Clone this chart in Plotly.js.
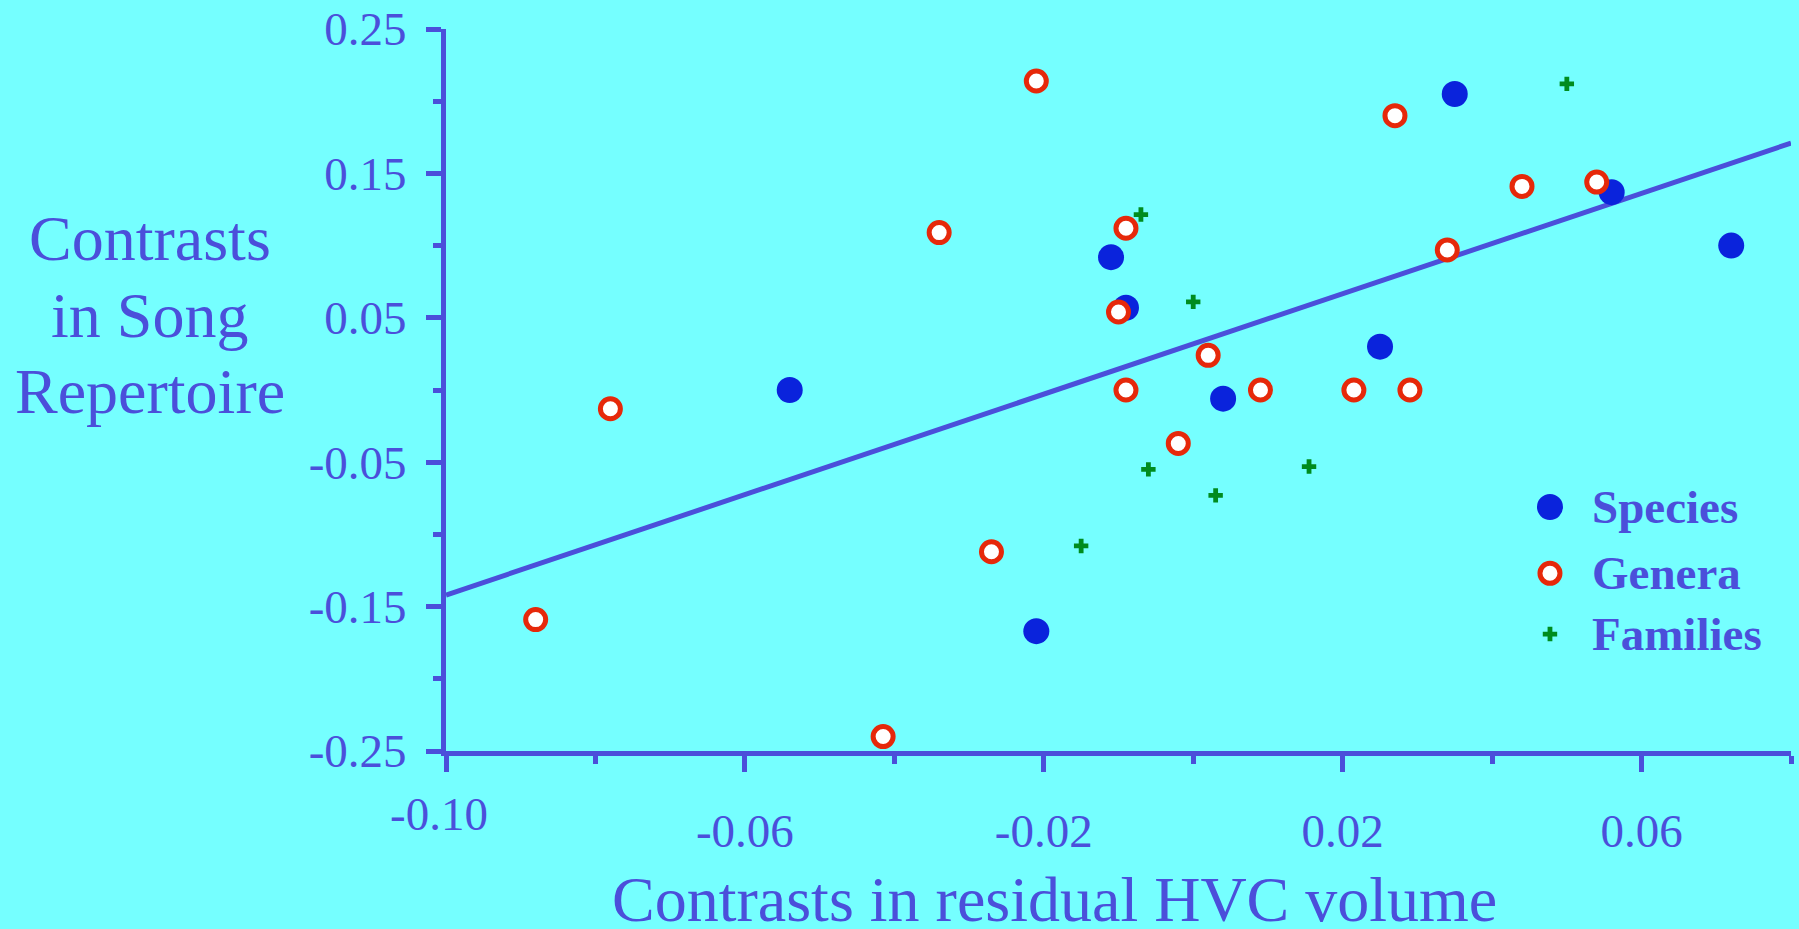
<!DOCTYPE html>
<html>
<head>
<meta charset="utf-8">
<script src="https://cdn.plot.ly/plotly-3.0.1.min.js"></script>
<style>
  html, body { margin: 0; padding: 0; background: #75FFFF; }
  #chart { width: 1799px; height: 929px; }
</style>
</head>
<body>
<div id="chart"></div>
<script>
// Phylogenetic contrasts: song repertoire vs residual HVC volume
const speciesX = [-0.054, -0.021, -0.011, -0.009, 0.004, 0.025, 0.035, 0.056, 0.072];
const speciesY = [0.000, -0.167, 0.092, 0.057, -0.006, 0.030, 0.205, 0.137, 0.100];

const generaX = [-0.088, -0.078, -0.0415, -0.034, -0.027, -0.021, -0.010, -0.009, -0.009,
                 -0.002, 0.002, 0.009, 0.0215, 0.027, 0.029, 0.034, 0.044, 0.054];
const generaY = [-0.159, -0.013, -0.240, 0.109, -0.112, 0.214, 0.054, 0.112, 0.000,
                 -0.037, 0.024, 0.000, 0.000, 0.190, 0.000, 0.097, 0.141, 0.144];

const familiesX = [-0.015, -0.007, -0.006, 0.000, 0.003, 0.0155, 0.050];
const familiesY = [-0.108, 0.1215, -0.055, 0.061, -0.073, -0.053, 0.212];

// regression line end points
const fitX = [-0.10, 0.08];
const fitY = [-0.142, 0.171];

const seriesNames = ['Species', 'Genera', 'Families'];

const xMajorVals = [-0.10, -0.06, -0.02, 0.02, 0.06];
const xMajorText = ['-0.10', '-0.06', '-0.02', '0.02', '0.06'];
const xMinorVals = [-0.08, -0.04, 0.00, 0.04, 0.08];

const yMajorVals = [0.25, 0.15, 0.05, -0.05, -0.15, -0.25];
const yMajorText = ['0.25', '0.15', '0.05', '-0.05', '-0.15', '-0.25'];
const yMinorVals = [0.20, 0.10, 0.00, -0.10, -0.20];

const xTitle = 'Contrasts in residual HVC volume';
const yTitleLines = ['Contrasts', 'in Song', 'Repertoire'];

const BG = '#75FFFF';
const INK = '#4B4FDA';
const BLUE = '#0A23DC';
const RED = '#E6280A';
const GREEN = '#008C1E';
const FONT = '"Liberation Serif", "Times New Roman", Times, serif';

const traces = [
  { x: fitX, y: fitY, mode: 'lines', type: 'scatter', hoverinfo: 'skip',
    line: { color: INK, width: 5 }, showlegend: false },
  { x: speciesX, y: speciesY, mode: 'markers', type: 'scatter', name: seriesNames[0],
    marker: { symbol: 'circle', size: 26, color: BLUE, line: { width: 0 } } },
  { x: familiesX, y: familiesY, mode: 'markers', type: 'scatter', name: seriesNames[2],
    marker: { symbol: 'cross', size: 12, color: GREEN, line: { width: 0 } } },
  { x: generaX, y: generaY, mode: 'markers', type: 'scatter', name: seriesNames[1],
    marker: { symbol: 'circle', size: 20, color: '#FFFFFF', line: { color: RED, width: 5 } } }
];

// the first x label sits a little higher than the others
const xTickTextAxis = xMajorText.map((t, i) => i === 0 ? '' : t);

const annotations = [];
annotations.push({
  text: xMajorText[0], xref: 'x', yref: 'paper', x: xMajorVals[0], y: -0.0866,
  xanchor: 'center', yanchor: 'middle', xshift: -7, showarrow: false,
  font: { family: FONT, size: 47, color: INK }
});
annotations.push({
  text: xTitle, xref: 'paper', yref: 'paper', x: 0.4524, y: -0.2056,
  xanchor: 'center', yanchor: 'middle', showarrow: false,
  font: { family: FONT, size: 64, color: INK }
});
const yTitleRows = [0.7094, 0.6032, 0.4975];
yTitleLines.forEach((t, i) => annotations.push({
  text: t, xref: 'paper', yref: 'paper', x: -0.2201, y: yTitleRows[i],
  xanchor: 'center', yanchor: 'middle', showarrow: false,
  font: { family: FONT, size: 64, color: INK }
}));

// legend keys and labels
const legendRows = [0.3380, 0.2461, 0.1620];
const keyX = 0.8208, labelX = 0.8506;
seriesNames.forEach((n, i) => annotations.push({
  text: '<b>' + n + '</b>', xref: 'paper', yref: 'paper', x: labelX, y: legendRows[i],
  xanchor: 'left', yanchor: 'middle', showarrow: false,
  font: { family: FONT, size: 47, color: INK }
}));

const shapes = [
  { type: 'circle', xref: 'paper', yref: 'paper', xsizemode: 'pixel', ysizemode: 'pixel',
    xanchor: keyX, yanchor: legendRows[0], x0: -13, x1: 13, y0: -13, y1: 13,
    fillcolor: BLUE, line: { width: 0 } },
  { type: 'circle', xref: 'paper', yref: 'paper', xsizemode: 'pixel', ysizemode: 'pixel',
    xanchor: keyX, yanchor: legendRows[1], x0: -10, x1: 10, y0: -10, y1: 10,
    fillcolor: '#FFFFFF', line: { color: RED, width: 5 } },
  { type: 'path', xref: 'paper', yref: 'paper', xsizemode: 'pixel', ysizemode: 'pixel',
    xanchor: keyX, yanchor: legendRows[2],
    path: 'M-7.2,2.4H-2.4V7.2H2.4V2.4H7.2V-2.4H2.4V-7.2H-2.4V-2.4H-7.2Z',
    fillcolor: GREEN, line: { width: 0 } }
];

const layout = {
  width: 1799, height: 929,
  margin: { l: 446, r: 8, t: 29, b: 178, pad: 0 },
  paper_bgcolor: BG, plot_bgcolor: BG,
  showlegend: false,
  font: { family: FONT, color: INK },
  xaxis: {
    range: [-0.10, 0.08], showgrid: false, zeroline: false,
    showline: true, linecolor: INK, linewidth: 5,
    ticks: 'outside', ticklen: 16, tickwidth: 5, tickcolor: INK,
    tickmode: 'array', tickvals: xMajorVals, ticktext: xTickTextAxis,
    tickfont: { family: FONT, size: 47, color: INK },
    ticklabelstandoff: 19,
    minor: { tickmode: 'array', tickvals: xMinorVals, ticks: 'outside',
             ticklen: 8, tickwidth: 5, tickcolor: INK, showgrid: false },
    fixedrange: true
  },
  yaxis: {
    range: [-0.25, 0.25], showgrid: false, zeroline: false,
    showline: true, linecolor: INK, linewidth: 5,
    ticks: 'outside', ticklen: 15, tickwidth: 5, tickcolor: INK,
    tickmode: 'array', tickvals: yMajorVals, ticktext: yMajorText,
    tickfont: { family: FONT, size: 47, color: INK },
    ticklabelstandoff: 10,
    minor: { tickmode: 'array', tickvals: yMinorVals, ticks: 'outside',
             ticklen: 8, tickwidth: 5, tickcolor: INK, showgrid: false },
    fixedrange: true
  },
  annotations: annotations,
  shapes: shapes
};

Plotly.newPlot('chart', traces, layout, { displayModeBar: false, staticPlot: true });
</script>
</body>
</html>
